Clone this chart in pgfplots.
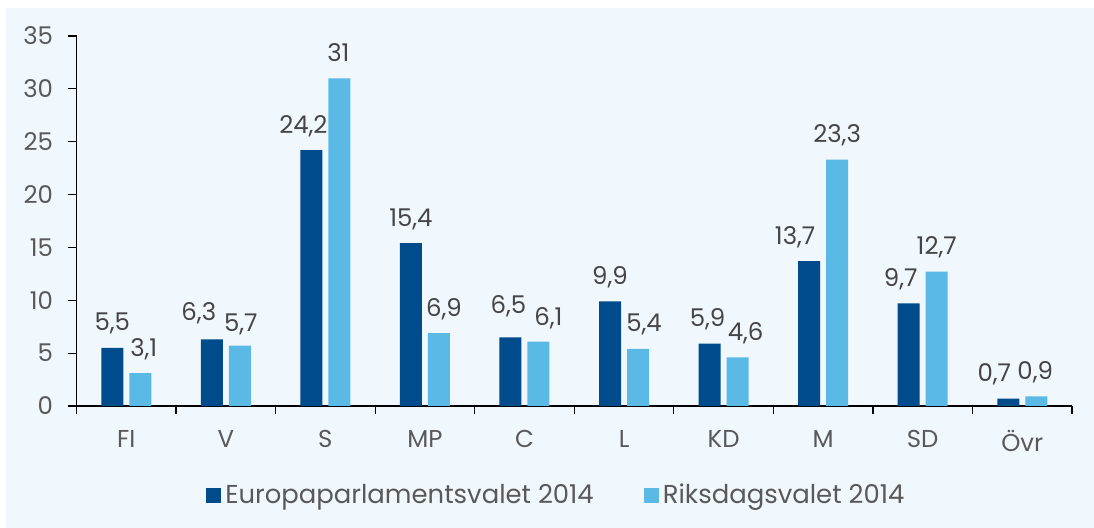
\documentclass[border=0pt]{standalone}
\usepackage{pgfplots}
\pgfplotsset{compat=1.18}
\usepackage{pgfplotstable}
\usepackage{fontspec}
\setmainfont{Poppins}
\definecolor{bgc}{HTML}{F0F8FE}
\definecolor{dk}{HTML}{004B8C}
\definecolor{lt}{HTML}{5BB9E6}
\definecolor{txt}{HTML}{595959}
\definecolor{lbl}{HTML}{454545}

% dx = horizontal offset of the value label from the category centre (bp)
\pgfplotstableread{
x y dx dy
0 5.5 -14 0
1 6.3 -27 2
2 24.2 -22 0
3 15.4 -14 0
4 6.5 -16 7
5 9.9 -14 0
6 5.9 -16 0
7 13.7 -28 0
8 9.7 -22 0
9 0.7 -28 0
}\eu
\pgfplotstableread{
x y dx dy
0 3.1 17.5 0
1 5.7 15 -3
2 31 13 0
3 6.9 19 0
4 6.1 24 -1
5 5.4 20 0
6 4.6 22 0
7 23.3 14 0
8 12.7 14 0
9 0.9 13 0
}\rd

\begin{document}
\begin{tikzpicture}[x=1bp,y=1bp]
\fill[white] (0,0) rectangle (1094,528);
\fill[bgc] (6,0) rectangle (1094,520);
\begin{axis}[
  at={(76.5bp,122bp)}, anchor=south west,
  scale only axis, width=995.5bp, height=370bp,
  xmin=-0.5, xmax=9.5, ymin=0, ymax=35,
  axis x line*=bottom, axis y line*=left,
  axis line style={black, line width=1.2bp},
  xtick={0,...,9}, xticklabels={FI,V,S,MP,C,L,KD,M,SD,Övr},
  major x tick style={draw=none},
  minor xtick={-0.5,0.5,...,9.5},
  ytick={0,5,...,35},
  tick align=outside,
  major tick length=9bp, minor tick length=8bp,
  tick style={black, line width=1.2bp},
  ticklabel style={font=\fontsize{24.5}{28}\selectfont, text=txt},
  xticklabel style={yshift=-12bp},
  yticklabel style={xshift=-11bp},
  /pgf/number format/assume math mode=true,
  /pgf/number format/use comma,
  /pgf/number format/fixed,
  /pgf/number format/precision=1,
  bar width=22bp,
  nodes near coords,
  visualization depends on={\thisrow{dx} \as \dx},
  visualization depends on={\thisrow{dy} \as \dy},
  nodes near coords style={anchor=base, inner sep=0pt, text=lbl,
     font=\fontsize{24.5}{28}\selectfont, xshift=\dx bp, yshift={17bp+\dy bp}},
  legend style={at={(axis description cs:0.483,-0.24)}, anchor=center,
     legend columns=2, draw=none, fill=none, font=\fontsize{26}{30}\selectfont,
     text=txt, /tikz/every even column/.append style={column sep=46bp},
     nodes={inner xsep=4bp}},
  legend image code/.code={\fill[#1] (0bp,-8bp) rectangle (15bp,7bp);},
]
\addplot[ybar, bar shift=-14bp, fill=dk, draw=none] table[x=x,y=y] {\eu};
\addplot[ybar, bar shift=14bp, fill=lt, draw=none] table[x=x,y=y] {\rd};
\legend{Europaparlamentsvalet 2014, Riksdagsvalet 2014}
\end{axis}
\end{tikzpicture}
\end{document}
